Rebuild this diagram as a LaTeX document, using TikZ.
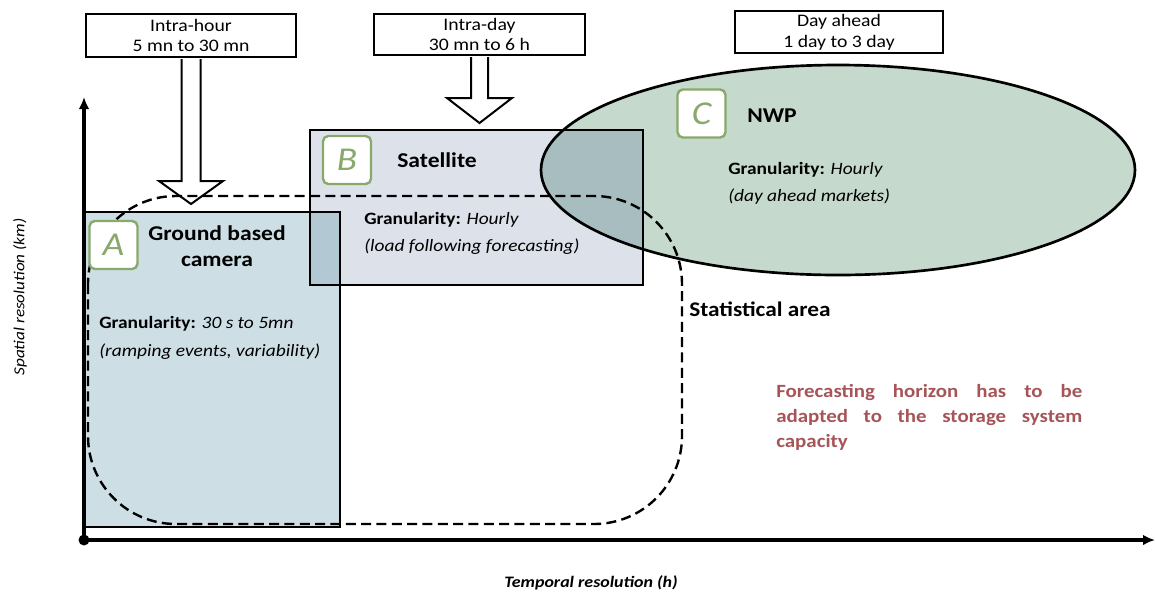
\documentclass[tikz,border=0pt]{standalone}
\usepackage{fontspec}
\setmainfont{Carlito}[FakeStretch=1.12]
\usetikzlibrary{arrows.meta}
\definecolor{camfill}{RGB}{206,222,229}
\definecolor{satfill}{RGB}{221,226,234}
\definecolor{nwpfill}{RGB}{198,217,205}
\definecolor{camsat}{RGB}{178,200,211}
\definecolor{satnwp}{RGB}{167,189,191}
\definecolor{badgegreen}{RGB}{137,168,108}
\definecolor{warnred}{RGB}{166,84,88}
\begin{document}
\begin{tikzpicture}[x=0.75pt, y=-0.75pt,
    timebox/.style={draw, line width=1.5pt, fill=white, align=center, inner sep=0pt,
        font=\fontsize{13.2}{15.6}\selectfont},
    blockarrow/.style={draw, line width=1.5pt, fill=white},
    badge/.style={draw=badgegreen, line width=1.8pt, fill=white, rounded corners=4pt,
        minimum size=36pt, inner sep=0pt, text=badgegreen, font=\fontsize{25}{25}\selectfont\itshape},
    title/.style={align=center, inner sep=0pt, font=\fontsize{15.8}{19.5}\selectfont\bfseries},
    gran/.style={anchor=west, align=left, inner sep=0pt, font=\fontsize{13}{20.7}\selectfont},
    region/.style={draw, line width=2pt},
    statarea/.style={draw, line width=1.8pt, dash pattern=on 7.5pt off 4pt, rounded corners=66pt},
    axis/.style={line width=2.6pt, -{Latex[length=9pt, width=8pt]}}]
    \useasboundingbox (0,0) rectangle (1155,594);

    % Regions
    \fill[camfill] (84,212) rectangle (340,527);
    \fill[satfill] (310,130) rectangle (643,285);
    \fill[nwpfill] (838,170) ellipse [x radius=297, y radius=105];
    \begin{scope}
        \clip (310,130) rectangle (643,285);
        \fill[camsat] (84,212) rectangle (340,527);
        \fill[satnwp] (838,170) ellipse [x radius=297, y radius=105];
    \end{scope}
    \draw[region] (84,212) rectangle (340,527);
    \draw[region] (310,130) rectangle (643,285);
    \draw[region] (838,170) ellipse [x radius=297, y radius=105];

    % Forecasting horizons
    \node[timebox, minimum width=157.5pt, minimum height=32.25pt] (hour) at (191,35.5) {Intra-hour\\5 mn to 30 mn};
    \node[timebox, minimum width=158.25pt, minimum height=30.75pt] (day) at (479.5,34.5) {Intra-day\\30 mn to 6 h};
    \node[timebox, minimum width=156pt, minimum height=31.5pt] (ahead) at (839,32) {Day ahead\\1 day to 3 day};
    \draw[blockarrow] (hour.south) ++(-9.5,1) -- ++(0,122) -- ++(-22.5,0) -- ++(32,23) -- ++(32,-23) -- ++(-22.5,0) -- ++(0,-122);
    \draw[blockarrow] (day.south) ++(-8.5,1) -- ++(0,41) -- ++(-24,0) -- ++(32.5,25) -- ++(32.5,-25) -- ++(-24,0) -- ++(0,-41);

    % Statistical area
    \draw[statarea] (88,196) rectangle (682,524);
    \node[anchor=west, inner sep=0pt, font=\fontsize{15.6}{18}\selectfont\bfseries] (stat) at (689,309) {Statistical area};

    % A: ground based camera
    \node[badge] (badgeA) at (113.5,245) {A};
    \node[title] (camera) at (217,246) {Ground based\\camera};
    \node[gran] (granA) at (99,338) {\textbf{Granularity:} \textit{30 s to 5mn}\\\textit{(ramping events, variability)}};

    % B: satellite
    \node[badge] (badgeB) at (347,160) {B};
    \node[title] (satellite) at (437,160) {Satellite};
    \node[gran] (granB) at (364,233.5) {\textbf{Granularity:} \textit{Hourly}\\\textit{(load following forecasting)}};

    % C: NWP
    \node[badge] (badgeC) at (701.5,113.5) {C};
    \node[title] (nwp) at (772,116) {NWP};
    \node[gran] (granC) at (728,183.5) {\textbf{Granularity:} \textit{Hourly}\\\textit{(day ahead markets)}};

    % Note
    \node[anchor=west, text width=229.5pt, align=justify, inner sep=0pt, text=warnred,
        font=\fontsize{14}{18.75}\selectfont\bfseries] (note) at (776,417.5)
        {Forecasting horizon has to be adapted to the storage system capacity};

    % Axes
    \coordinate (origin) at (84,540);
    \coordinate (ytop) at (84,97);
    \coordinate (xend) at (1155,540);
    \draw[axis] (origin) -- (ytop);
    \draw[axis] (origin) -- (xend);
    \fill (origin) circle (5.5);
    \node[rotate=90, inner sep=0pt, font=\fontsize{11.5}{14}\selectfont\itshape] (ylabel) at (20,297) {Spatial resolution (km)};
    \node[inner sep=0pt, font=\fontsize{12}{14}\selectfont\bfseries\itshape] (xlabel) at (591,583) {Temporal resolution (h)};
\end{tikzpicture}
\end{document}
